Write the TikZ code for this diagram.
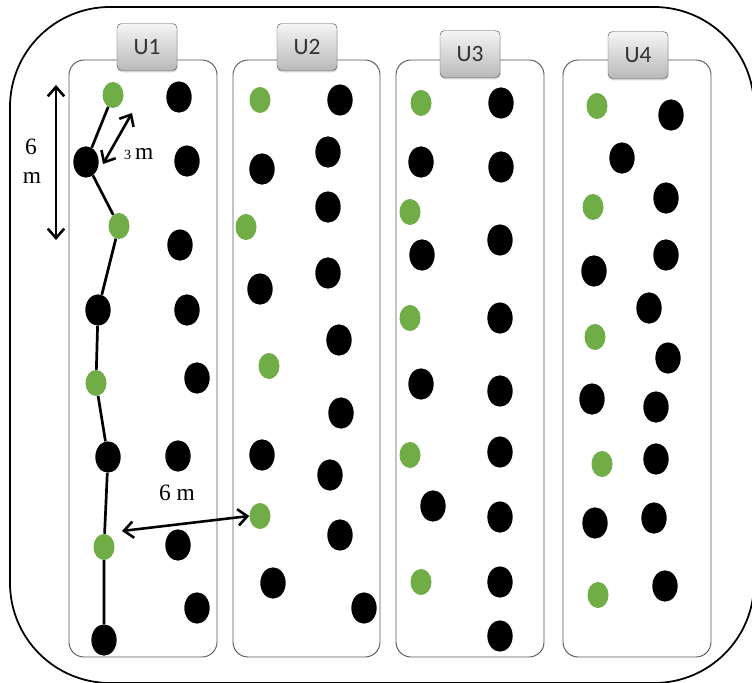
\documentclass[tikz,border=0pt]{standalone}
\usepackage{fontspec}
\setmainfont{Liberation Serif}
\newfontfamily\unitfont{Carlito}
\usetikzlibrary{arrows.meta, shapes.geometric, shadows}

\definecolor{leafgreen}{HTML}{70AD47}
\definecolor{framegray}{HTML}{555555}

\begin{document}
\begin{tikzpicture}[
    x=0.03cm, y=-0.03cm,
    tree/.style={ellipse, fill=black, inner sep=0pt, minimum width=0.76cm, minimum height=0.94cm},
    sample/.style={ellipse, fill=leafgreen, inner sep=0pt, minimum width=0.63cm, minimum height=0.78cm},
    unitbox/.style={draw=framegray, rounded corners=4pt, top color=gray!8, bottom color=gray!55,
        minimum width=1.8cm, minimum height=1.41cm, font=\unitfont\fontsize{20}{22}\selectfont,
        text=black!80, drop shadow={opacity=0.35, shadow xshift=0.5pt, shadow yshift=-1.5pt}},
    column/.style={draw=framegray, line width=0.8pt, rounded corners=0.45cm},
    walk/.style={line width=2.3pt},
    dim/.style={{Straight Barb[length=8pt,width=14pt]}-{Straight Barb[length=8pt,width=14pt]}, line width=2.2pt},
    lbl/.style={font=\fontsize{20}{22}\selectfont, inner sep=0pt}
]

\useasboundingbox (0,0) rectangle (752,683);

\draw[line width=1.5pt, rounded corners=3cm] (10,7) rectangle (754,683);

\draw[column] (69,60) rectangle (217,657);
\draw[column] (233,60) rectangle (380,657);
\draw[column] (396,60) rectangle (544,657);
\draw[column] (563,60) rectangle (711,657);

\node[unitbox] (u1) at (147,47) {U1};
\node[unitbox] (u2) at (307,47) {U2};
\node[unitbox] (u3) at (470,54) {U3};
\node[unitbox] (u4) at (638,55) {U4};

\node[sample] (p1) at (113,95) {};
\node[tree]   (p2) at (86,162) {};
\node[sample] (p3) at (119,226) {};
\node[tree]   (p4) at (98,310) {};
\node[sample] (p5) at (96,383) {};
\node[tree]   (p6) at (108,457) {};
\node[sample] (p7) at (104,547) {};
\node[tree]   (p8) at (104,640) {};

\foreach \x/\y [count=\i] in {179/97, 187/161, 180/245, 187/310, 197/378, 178/456, 178/545, 197/608}
    \node[tree] (u1b\i) at (\x,\y) {};

\foreach \x/\y [count=\i] in {260/100, 246/227, 269/366, 260/516}
    \node[sample] (u2g\i) at (\x,\y) {};
\foreach \x/\y [count=\i] in {340/100, 328/152, 262/169, 328/207, 328/273, 260/289, 339/340,
    341/413, 262/455, 330/475, 340/535, 273/583, 364/608}
    \node[tree] (u2b\i) at (\x,\y) {};

\foreach \x/\y [count=\i] in {421/103, 410/212, 410/318, 410/455, 421/582}
    \node[sample] (u3g\i) at (\x,\y) {};
\foreach \x/\y [count=\i] in {501/103, 421/162, 501/167, 422/255, 500/240, 500/318, 421/384,
    500/391, 500/452, 433/506, 500/517, 500/582, 500/636}
    \node[tree] (u3b\i) at (\x,\y) {};

\foreach \x/\y [count=\i] in {597/106, 593/207, 595/337, 602/464, 598/595}
    \node[sample] (u4g\i) at (\x,\y) {};
\foreach \x/\y [count=\i] in {671/115, 622/158, 666/198, 594/271, 666/255, 649/308, 668/358,
    592/399, 656/407, 656/459, 595/523, 654/518, 665/586}
    \node[tree] (u4b\i) at (\x,\y) {};

\draw[walk] (p1) -- (p2) -- (p3) -- (p4) -- (p5) -- (p6) -- (p7) -- (p8);

\coordinate (rowtop) at (56,85);
\coordinate (rowbot) at (56,240);
\draw[dim] (rowtop) -- (rowbot);
\node[lbl] (rowsix) at (31,147) {6};
\node[lbl] (rowm) at (32,178) {m};

\coordinate (diagA) at (103,164);
\coordinate (diagB) at (132,113);
\draw[dim] (diagA) -- (diagB);
\node[lbl, anchor=base west] (diaglbl) at (124,160) {{\fontsize{12}{13}\selectfont 3}\,m};

\coordinate (gapA) at (122,531);
\draw[dim] (gapA) -- (u2g4.west);
\node[lbl] (gaplbl) at (177,493) {6 m};

\end{tikzpicture}
\end{document}
